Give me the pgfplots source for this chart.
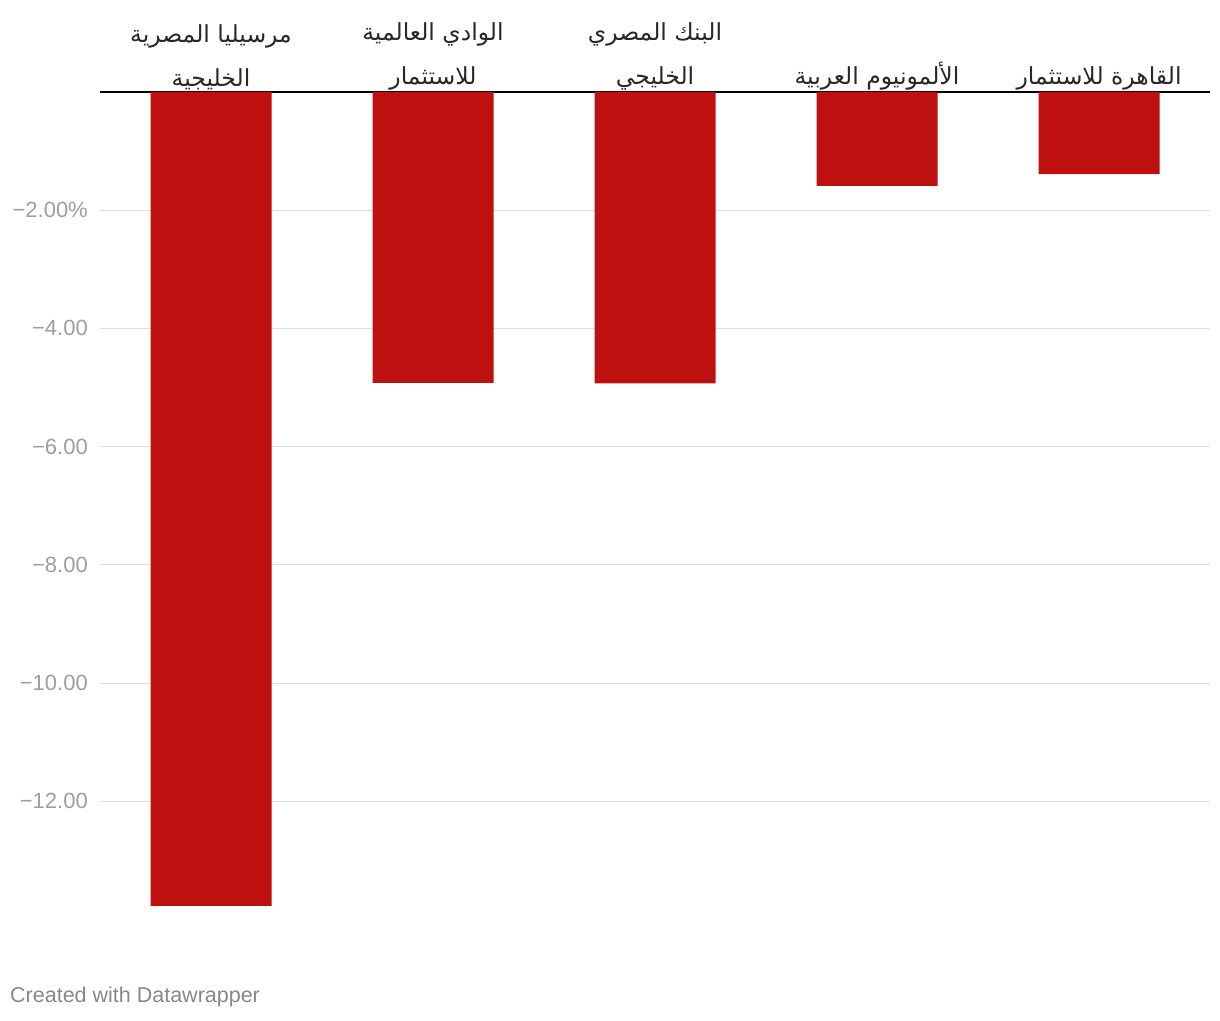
\documentclass[border=0pt]{standalone}
\usepackage{fontspec}
\usepackage{pgfplots}
\pgfplotsset{compat=1.18}
\setmainfont{Liberation Sans}
\newfontfamily\arabicfont[Script=Arabic]{DejaVu Sans}
\TeXXeTstate=1

\definecolor{barred}{RGB}{191,16,16}
\definecolor{gridgray}{RGB}{222,222,222}
\definecolor{ticktext}{RGB}{158,158,158}
\definecolor{labeltext}{RGB}{40,40,40}
\definecolor{foot}{RGB}{136,136,136}

\begin{document}
\begin{tikzpicture}
  \path[use as bounding box] (0,0) rectangle (1220pt,1020pt);
  \begin{axis}[
      at={(100pt,71pt)}, anchor=south west,
      scale only axis,
      width=1110pt, height=857pt,
      xmin=-0.5, xmax=4.5,
      ymin=-14.5, ymax=0,
      axis line style={draw=none},
      major tick length=0pt,
      xtick={0,1,2,3,4},
      xticklabel pos=right,
      xticklabels={
        {\beginR مرسيليا المصرية\endR\\\beginR الخليجية\endR},
        {\beginR الوادي العالمية\endR\\\beginR للاستثمار\endR},
        {\beginR البنك المصري\endR\\\beginR الخليجي\endR},
        {\beginR الألمونيوم العربية\endR},
        {\beginR القاهرة للاستثمار\endR}},
      xticklabel style={font=\arabicfont\fontsize{23.5}{44}\selectfont,
        align=center, anchor=south, inner sep=0pt, yshift=2pt, text=labeltext},
      ytick={-12,-10,-8,-6,-4,-2},
      yticklabels={−12.00,−10.00,−8.00,−6.00,−4.00,−2.00\%},
      yticklabel style={font=\fontsize{22}{25}\selectfont, text=ticktext,
        anchor=east, inner sep=0pt, xshift=-12pt},
      ymajorgrids=true,
      grid style={gridgray, line width=1pt},
      extra y ticks={0},
      extra y tick labels={},
      extra y tick style={grid style={black, line width=1.6pt}},
    ]
    \addplot[ybar, bar width=121pt, fill=barred, draw=none]
      coordinates {
        (0, -13.77)
        (1, -4.92)
        (2, -4.93)
        (3, -1.59)
        (4, -1.39)
      };
  \end{axis}
  \node[anchor=west, inner sep=0pt, text=foot, font=\fontsize{21.5}{24}\selectfont]
    at (10pt,23pt) {Created with Datawrapper};
\end{tikzpicture}
\end{document}
